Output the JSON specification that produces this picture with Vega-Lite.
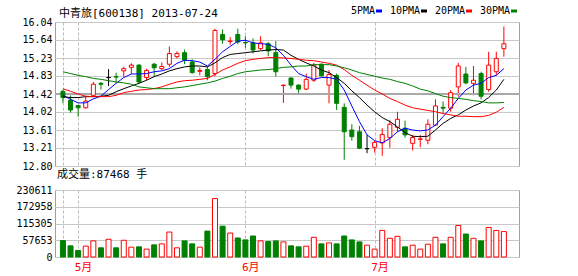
{
"$schema": "https://vega.github.io/schema/vega-lite/v6.json",
"padding": {"left": 15, "top": 6, "right": 0, "bottom": 0},
"background": "white",
"bounds": "flush",
"spacing": 24,
"config": {
  "view": {"stroke": "#A0A0A0", "strokeWidth": 1},
  "font": "DejaVu Sans Mono, Noto Sans CJK SC",
  "axis": {"labelFont": "DejaVu Sans Mono, Noto Sans CJK SC", "labelFontSize": 10, "labelColor": "#000000", "ticks": false, "domain": false, "title": null, "gridColor": "#C8C8C8", "gridOpacity": 1, "labelPadding": 3, "labelOverlap": false, "tickCount": 30},
  "title": {"font": "DejaVu Sans Mono, Noto Sans CJK SC", "fontSize": 11, "fontWeight": "normal", "color": "#000000", "anchor": "start", "frame": "group"}
},
"datasets": {
"k": [
{"i":0,"d":"2013-04-25","o":14.48,"h":14.52,"l":14.22,"c":14.34,"v":56500,"5PMA":14.39,"10PMA":14.36,"20PMA":14.54,"30PMA":14.92},
{"i":1,"d":"2013-04-26","o":14.28,"h":14.39,"l":14.00,"c":14.06,"v":38400,"5PMA":14.30,"10PMA":14.34,"20PMA":14.48,"30PMA":14.88},
{"i":2,"d":"2013-05-02","o":14.16,"h":14.17,"l":13.91,"c":14.11,"v":22600,"5PMA":14.22,"10PMA":14.34,"20PMA":14.42,"30PMA":14.84},
{"i":3,"d":"2013-05-03","o":14.11,"h":14.37,"l":14.09,"c":14.26,"v":37300,"5PMA":14.22,"10PMA":14.36,"20PMA":14.37,"30PMA":14.81},
{"i":4,"d":"2013-05-06","o":14.39,"h":14.69,"l":14.37,"c":14.64,"v":55400,"5PMA":14.31,"10PMA":14.36,"20PMA":14.36,"30PMA":14.77},
{"i":5,"d":"2013-05-07","o":14.66,"h":14.69,"l":14.52,"c":14.64,"v":31600,"5PMA":14.37,"10PMA":14.37,"20PMA":14.36,"30PMA":14.75},
{"i":6,"d":"2013-05-08","o":14.79,"h":14.98,"l":14.60,"c":14.79,"v":61000,"5PMA":14.52,"10PMA":14.39,"20PMA":14.36,"30PMA":14.72},
{"i":7,"d":"2013-05-09","o":14.81,"h":14.90,"l":14.67,"c":14.80,"v":31600,"5PMA":14.66,"10PMA":14.47,"20PMA":14.39,"30PMA":14.69},
{"i":8,"d":"2013-05-10","o":14.94,"h":15.03,"l":14.81,"c":14.99,"v":57600,"5PMA":14.79,"10PMA":14.54,"20PMA":14.45,"30PMA":14.67},
{"i":9,"d":"2013-05-13","o":15.02,"h":15.11,"l":14.87,"c":15.07,"v":33900,"5PMA":14.87,"10PMA":14.60,"20PMA":14.48,"30PMA":14.64},
{"i":10,"d":"2013-05-14","o":15.07,"h":15.09,"l":14.66,"c":14.69,"v":35000,"5PMA":14.87,"10PMA":14.66,"20PMA":14.51,"30PMA":14.58},
{"i":11,"d":"2013-05-15","o":14.79,"h":14.99,"l":14.73,"c":14.95,"v":27100,"5PMA":14.88,"10PMA":14.73,"20PMA":14.52,"30PMA":14.56},
{"i":12,"d":"2013-05-16","o":15.09,"h":15.12,"l":14.81,"c":15.01,"v":41800,"5PMA":14.92,"10PMA":14.81,"20PMA":14.54,"30PMA":14.54},
{"i":13,"d":"2013-05-17","o":14.99,"h":15.13,"l":14.96,"c":15.04,"v":45200,"5PMA":14.94,"10PMA":14.87,"20PMA":14.58,"30PMA":14.54},
{"i":14,"d":"2013-05-20","o":15.09,"h":15.49,"l":15.03,"c":15.33,"v":85900,"5PMA":14.99,"10PMA":14.94,"20PMA":14.64,"30PMA":14.54},
{"i":15,"d":"2013-05-21","o":15.26,"h":15.38,"l":15.22,"c":15.33,"v":31600,"5PMA":15.11,"10PMA":14.99,"20PMA":14.69,"30PMA":14.56},
{"i":16,"d":"2013-05-22","o":15.35,"h":15.42,"l":15.09,"c":15.18,"v":55400,"5PMA":15.18,"10PMA":15.03,"20PMA":14.72,"30PMA":14.58},
{"i":17,"d":"2013-05-23","o":15.14,"h":15.20,"l":14.88,"c":14.90,"v":45200,"5PMA":15.17,"10PMA":15.05,"20PMA":14.73,"30PMA":14.61},
{"i":18,"d":"2013-05-24","o":14.93,"h":15.02,"l":14.84,"c":14.95,"v":33900,"5PMA":15.14,"10PMA":15.05,"20PMA":14.75,"30PMA":14.64},
{"i":19,"d":"2013-05-27","o":14.97,"h":15.03,"l":14.73,"c":14.81,"v":89300,"5PMA":15.05,"10PMA":15.03,"20PMA":14.77,"30PMA":14.67},
{"i":20,"d":"2013-05-28","o":14.88,"h":15.89,"l":14.82,"c":15.85,"v":201100,"5PMA":15.20,"10PMA":15.12,"20PMA":14.86,"30PMA":14.71},
{"i":21,"d":"2013-05-29","o":15.76,"h":15.87,"l":15.55,"c":15.64,"v":106200,"5PMA":15.37,"10PMA":15.24,"20PMA":14.96,"30PMA":14.77},
{"i":22,"d":"2013-05-30","o":15.60,"h":15.70,"l":15.53,"c":15.61,"v":82500,"5PMA":15.49,"10PMA":15.31,"20PMA":15.03,"30PMA":14.82},
{"i":23,"d":"2013-05-31","o":15.76,"h":15.89,"l":15.54,"c":15.59,"v":65500,"5PMA":15.61,"10PMA":15.33,"20PMA":15.11,"30PMA":14.88},
{"i":24,"d":"2013-06-03","o":15.58,"h":15.72,"l":15.46,"c":15.57,"v":58800,"5PMA":15.63,"10PMA":15.35,"20PMA":15.17,"30PMA":14.92},
{"i":25,"d":"2013-06-04","o":15.57,"h":15.67,"l":15.33,"c":15.41,"v":72300,"5PMA":15.57,"10PMA":15.37,"20PMA":15.20,"30PMA":14.94},
{"i":26,"d":"2013-06-05","o":15.44,"h":15.72,"l":15.41,"c":15.57,"v":55400,"5PMA":15.55,"10PMA":15.39,"20PMA":15.22,"30PMA":14.96},
{"i":27,"d":"2013-06-06","o":15.55,"h":15.59,"l":15.27,"c":15.39,"v":53100,"5PMA":15.54,"10PMA":15.41,"20PMA":15.24,"30PMA":14.97},
{"i":28,"d":"2013-06-07","o":15.35,"h":15.61,"l":14.81,"c":14.92,"v":55400,"5PMA":15.46,"10PMA":15.42,"20PMA":15.24,"30PMA":14.99},
{"i":29,"d":"2013-06-13","o":14.61,"h":14.63,"l":14.22,"c":14.62,"v":52000,"5PMA":15.29,"10PMA":15.41,"20PMA":15.23,"30PMA":15.02},
{"i":30,"d":"2013-06-14","o":14.78,"h":14.79,"l":14.54,"c":14.62,"v":38400,"5PMA":15.07,"10PMA":15.29,"20PMA":15.22,"30PMA":15.03},
{"i":31,"d":"2013-06-17","o":14.62,"h":14.64,"l":14.43,"c":14.53,"v":35000,"5PMA":14.88,"10PMA":15.20,"20PMA":15.20,"30PMA":15.05},
{"i":32,"d":"2013-06-18","o":14.53,"h":14.88,"l":14.51,"c":14.75,"v":37300,"5PMA":14.81,"10PMA":15.12,"20PMA":15.18,"30PMA":15.05},
{"i":33,"d":"2013-06-19","o":14.73,"h":15.12,"l":14.69,"c":15.07,"v":67800,"5PMA":14.75,"10PMA":15.05,"20PMA":15.17,"30PMA":15.08},
{"i":34,"d":"2013-06-20","o":15.09,"h":15.11,"l":14.81,"c":14.83,"v":45200,"5PMA":14.79,"10PMA":14.96,"20PMA":15.14,"30PMA":15.08},
{"i":35,"d":"2013-06-21","o":14.62,"h":14.96,"l":14.21,"c":14.86,"v":48600,"5PMA":14.79,"10PMA":14.90,"20PMA":15.11,"30PMA":15.08},
{"i":36,"d":"2013-06-24","o":14.84,"h":14.88,"l":14.06,"c":14.21,"v":45200,"5PMA":14.75,"10PMA":14.79,"20PMA":15.07,"30PMA":15.05},
{"i":37,"d":"2013-06-25","o":14.12,"h":14.21,"l":12.94,"c":13.57,"v":72300,"5PMA":14.51,"10PMA":14.66,"20PMA":14.97,"30PMA":15.01},
{"i":38,"d":"2013-06-26","o":13.61,"h":13.74,"l":13.37,"c":13.46,"v":58800,"5PMA":14.15,"10PMA":14.49,"20PMA":14.84,"30PMA":14.96},
{"i":39,"d":"2013-06-27","o":13.57,"h":13.70,"l":13.18,"c":13.20,"v":52000,"5PMA":13.80,"10PMA":14.34,"20PMA":14.73,"30PMA":14.90},
{"i":40,"d":"2013-06-28","o":13.19,"h":13.50,"l":13.09,"c":13.19,"v":40700,"5PMA":13.50,"10PMA":14.17,"20PMA":14.62,"30PMA":14.86},
{"i":41,"d":"2013-07-01","o":13.22,"h":13.37,"l":13.10,"c":13.33,"v":27100,"5PMA":13.37,"10PMA":14.02,"20PMA":14.51,"30PMA":14.82},
{"i":42,"d":"2013-07-02","o":13.32,"h":13.65,"l":13.03,"c":13.51,"v":91500,"5PMA":13.32,"10PMA":13.89,"20PMA":14.42,"30PMA":14.78},
{"i":43,"d":"2013-07-03","o":13.44,"h":13.83,"l":13.21,"c":13.74,"v":64400,"5PMA":13.42,"10PMA":13.80,"20PMA":14.32,"30PMA":14.75},
{"i":44,"d":"2013-07-04","o":13.67,"h":14.02,"l":13.57,"c":13.85,"v":71200,"5PMA":13.57,"10PMA":13.68,"20PMA":14.25,"30PMA":14.70},
{"i":45,"d":"2013-07-05","o":13.65,"h":13.82,"l":13.44,"c":13.50,"v":35000,"5PMA":13.65,"10PMA":13.55,"20PMA":14.17,"30PMA":14.66},
{"i":46,"d":"2013-07-08","o":13.31,"h":13.50,"l":13.15,"c":13.44,"v":40700,"5PMA":13.61,"10PMA":13.47,"20PMA":14.11,"30PMA":14.60},
{"i":47,"d":"2013-07-09","o":13.40,"h":13.50,"l":13.22,"c":13.41,"v":27100,"5PMA":13.59,"10PMA":13.46,"20PMA":14.08,"30PMA":14.53},
{"i":48,"d":"2013-07-10","o":13.38,"h":13.85,"l":13.29,"c":13.74,"v":44100,"5PMA":13.61,"10PMA":13.47,"20PMA":14.05,"30PMA":14.49},
{"i":49,"d":"2013-07-11","o":13.72,"h":14.30,"l":13.70,"c":14.15,"v":67800,"5PMA":13.72,"10PMA":13.61,"20PMA":14.02,"30PMA":14.43},
{"i":50,"d":"2013-07-12","o":14.12,"h":14.25,"l":14.00,"c":14.10,"v":45200,"5PMA":13.91,"10PMA":13.76,"20PMA":13.98,"30PMA":14.37},
{"i":51,"d":"2013-07-15","o":14.10,"h":14.51,"l":14.02,"c":14.45,"v":67800,"5PMA":14.10,"10PMA":13.87,"20PMA":13.95,"30PMA":14.34},
{"i":52,"d":"2013-07-16","o":14.58,"h":15.12,"l":14.36,"c":15.05,"v":108500,"5PMA":14.32,"10PMA":13.95,"20PMA":13.92,"30PMA":14.32},
{"i":53,"d":"2013-07-17","o":14.87,"h":15.03,"l":14.64,"c":14.67,"v":79100,"5PMA":14.51,"10PMA":14.06,"20PMA":13.92,"30PMA":14.30},
{"i":54,"d":"2013-07-18","o":14.66,"h":15.05,"l":14.39,"c":14.73,"v":64400,"5PMA":14.62,"10PMA":14.15,"20PMA":13.91,"30PMA":14.27},
{"i":55,"d":"2013-07-19","o":14.88,"h":14.92,"l":14.30,"c":14.37,"v":55400,"5PMA":14.66,"10PMA":14.22,"20PMA":13.91,"30PMA":14.25},
{"i":56,"d":"2013-07-22","o":14.52,"h":15.37,"l":14.47,"c":15.07,"v":101700,"5PMA":14.79,"10PMA":14.34,"20PMA":13.94,"30PMA":14.22},
{"i":57,"d":"2013-07-23","o":14.92,"h":15.37,"l":14.84,"c":15.22,"v":91500,"5PMA":14.84,"10PMA":14.51,"20PMA":14.01,"30PMA":14.22},
{"i":58,"d":"2013-07-24","o":15.44,"h":15.94,"l":15.26,"c":15.55,"v":87468,"5PMA":14.99,"10PMA":14.75,"20PMA":14.12,"30PMA":14.23}
]
},
"vconcat": [
{
  "width": 464, "height": 144,
  "title": {"text": "中青旅[600138] 2013-07-24", "offset": -2, "dx": 4},
  "data": {"name": "k"},
  "encoding": {
    "x": {"field": "i", "type": "quantitative", "scale": {"domain": [-0.386, 59.33], "nice": false, "zero": false},
          "axis": {"values": [0, 2, 24, 41], "tickCount": 30, "grid": true, "gridDash": [3, 2], "gridColor": "#BBBBBB", "labels": false}}
  },
  "layer": [
    {"mark": {"type": "rule", "strokeWidth": 1},
     "encoding": {
       "y": {"field": "l", "type": "quantitative", "scale": {"domain": [12.8, 16.04], "nice": false, "zero": false},
             "axis": {"values": [12.80, 13.21, 13.61, 14.02, 14.42, 14.83, 15.23, 15.64, 16.04], "tickCount": 30, "format": ".2f", "grid": true, "gridColor": "#C8C8C8", "labelOverlap": false}},
       "y2": {"field": "h"},
       "color": {"condition": [{"test": "datum.c > datum.o", "value": "#FF0000"}, {"test": "datum.c < datum.o", "value": "#008000"}], "value": "#000000"}
     }},
    {"mark": {"type": "rule", "color": "#A8A8A8", "strokeWidth": 1},
     "encoding": {"y": {"datum": 14.42, "type": "quantitative"}, "x": null}},
    {"mark": {"type": "bar", "width": 4, "strokeWidth": 1, "orient": "vertical"},
     "encoding": {
       "y": {"field": "o", "type": "quantitative"},
       "y2": {"field": "c"},
       "fill": {"condition": {"test": "datum.c < datum.o", "value": "#008000"}, "value": "#FFFFFF"},
       "stroke": {"condition": [{"test": "datum.c > datum.o", "value": "#FF0000"}, {"test": "datum.c < datum.o", "value": "#008000"}], "value": "#000000"}
     }},
    {"transform": [{"fold": ["5PMA", "10PMA", "20PMA", "30PMA"], "as": ["m", "val"]}],
     "mark": {"type": "line", "strokeWidth": 1},
     "encoding": {
       "y": {"field": "val", "type": "quantitative"},
       "color": {"field": "m", "type": "nominal",
                 "scale": {"domain": ["5PMA", "10PMA", "20PMA", "30PMA"], "range": ["#0000FF", "#000000", "#FF0000", "#008000"]},
                 "legend": {"orient": "none", "legendX": 319, "legendY": -16, "direction": "horizontal", "title": null,
                            "symbolType": "stroke", "symbolStrokeWidth": 3, "symbolSize": 36,
                            "labelFont": "DejaVu Sans Mono", "labelFontSize": 10, "labelColor": "#000000",
                            "labelAlign": "right", "labelOffset": -9, "columnPadding": 1, "padding": 0}}
     }}
  ]
},
{
  "width": 464, "height": 67,
  "title": {"text": "成交量:87468 手", "offset": 5, "dx": 2},
  "data": {"name": "k"},
  "mark": {"type": "bar", "width": 5, "strokeWidth": 1, "orient": "vertical"},
  "encoding": {
    "x": {"field": "i", "type": "quantitative", "scale": {"domain": [-0.386, 59.33], "nice": false, "zero": false},
          "axis": {"values": [0, 2, 24, 41], "tickCount": 30, "grid": true, "gridDash": [3, 2], "gridColor": "#BBBBBB",
                   "labelExpr": "datum.value == 2 ? '5月' : datum.value == 24 ? '6月' : datum.value == 41 ? '7月' : ''",
                   "labelColor": "#FF0000", "labelFontSize": 11, "labelAlign": "left", "labelOffset": -4, "labelPadding": 4}},
    "y": {"field": "v", "type": "quantitative", "scale": {"domain": [0, 230611], "nice": false},
          "axis": {"values": [0, 57653, 115305, 172958, 230611], "tickCount": 30, "format": "d", "grid": true, "gridColor": "#C8C8C8"}},
    "fill": {"condition": {"test": "datum.c < datum.o", "value": "#008000"}, "value": "#FFFFFF"},
    "stroke": {"condition": {"test": "datum.c < datum.o", "value": "#008000"}, "value": "#FF0000"}
  }
}
]
}
